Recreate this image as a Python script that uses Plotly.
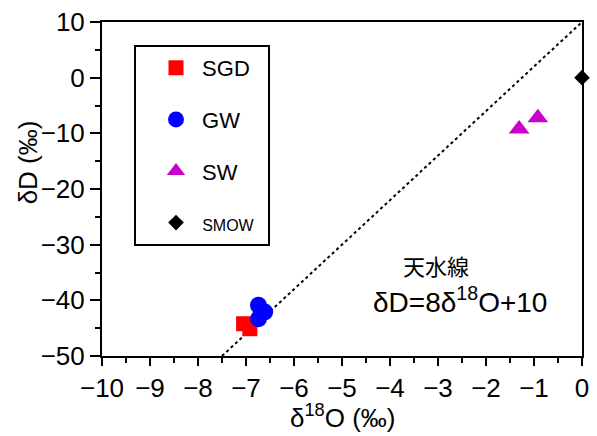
import plotly.graph_objects as go

# --- data ---
sgd_x = [-7.05, -6.92]
sgd_y = [-44.2, -45.1]
gw_x = [-6.74, -6.74, -6.61]
gw_y = [-40.9, -43.3, -42.1]
sw_x = [-1.31, -0.92]
sw_y = [-9.2, -7.2]
smow_x = [0.0]
smow_y = [0.0]
# meteoric water line dD = 8 d18O + 10
mwl_x = [-7.5, 0.0]
mwl_slope = 8
mwl_intercept = 10
mwl_y = [mwl_slope * v + mwl_intercept for v in mwl_x]

x_ticks = list(range(-10, 1))
y_ticks = list(range(-50, 11, 10))

FONT = "Liberation Sans, Arial, sans-serif"
CJK = "Noto Sans CJK JP, sans-serif"

fig = go.Figure()
fig.add_trace(go.Scatter(x=mwl_x, y=mwl_y, mode="lines", showlegend=False,
                         line=dict(color="black", width=2, dash="dot"), hoverinfo="skip"))
fig.add_trace(go.Scatter(x=sgd_x, y=sgd_y, mode="markers", name="\u00a0SGD\u00a0\u00a0", legendgroup="a",
                         marker=dict(symbol="square", size=15, color="#FF0000")))
fig.add_trace(go.Scatter(x=gw_x, y=gw_y, mode="markers", name="\u00a0GW", legendgroup="b",
                         marker=dict(symbol="circle", size=17, color="#0000FF")))
fig.add_trace(go.Scatter(x=sw_x, y=sw_y, mode="markers", name="\u00a0SW", legendgroup="c",
                         marker=dict(symbol="triangle-up", size=18, color="#CC00CC")))
fig.add_trace(go.Scatter(x=smow_x, y=smow_y, mode="markers",
                         name="\u00a0<span style='font-size:16px'>SMOW</span>", legendgroup="d",
                         marker=dict(symbol="diamond", size=12, color="black"), cliponaxis=False))

axis_common = dict(showline=True, linecolor="black", linewidth=2, mirror=True,
                   showgrid=False, zeroline=False, ticks="outside", tickcolor="black",
                   tickwidth=1.5, tickangle=0, automargin=False,
                   tickfont=dict(family=FONT, size=26, color="black"))

fig.update_xaxes(range=[-10, 0], tickvals=x_ticks, ticklen=8,
                 minor=dict(dtick=0.5, ticks="outside", ticklen=5, tickcolor="black", tickwidth=1.5),
                 **axis_common)
fig.update_yaxes(range=[-50, 10], tickvals=y_ticks, ticklen=10,
                 minor=dict(dtick=5, ticks="outside", ticklen=5, tickcolor="black", tickwidth=1.5),
                 **axis_common)

fig.update_layout(
    width=597, height=436,
    margin=dict(l=102, r=15, t=22, b=80, autoexpand=False),
    paper_bgcolor="white", plot_bgcolor="white",
    showlegend=True,
    legend=dict(x=(134 - 102) / 480, y=(356 - 45) / 334, xanchor="left", yanchor="top",
                bordercolor="black", borderwidth=2, bgcolor="white",
                font=dict(family=FONT, size=22, color="black"),
                traceorder="grouped", tracegroupgap=20, indentation=20,
                itemsizing="trace"),
    annotations=[
        dict(text="δ<sup>18</sup>O (‰)", xref="paper", yref="paper", x=0.5, y=-0.18,
             xanchor="center", yanchor="middle", showarrow=False,
             font=dict(family=FONT, size=26, color="black")),
        dict(text="δD (‰)", xref="paper", yref="paper", x=-0.154, y=0.58,
             xanchor="center", yanchor="middle", showarrow=False, textangle=-90,
             font=dict(family=FONT, size=26, color="black")),
        dict(text="天水線", xref="x", yref="y", x=-3.04, y=-33.6,
             xanchor="center", yanchor="middle", showarrow=False,
             font=dict(family=CJK, size=22, color="black")),
        dict(text="δD=8δ<sup>18</sup>O+10", xref="x", yref="y", x=-2.54, y=-40.0,
             xanchor="center", yanchor="middle", showarrow=False,
             font=dict(family=FONT, size=28, color="black")),
    ],
)

fig.write_html("out.html", config={"displayModeBar": False},
               post_script="document.body.style.margin='0';document.body.style.overflow='hidden';")
